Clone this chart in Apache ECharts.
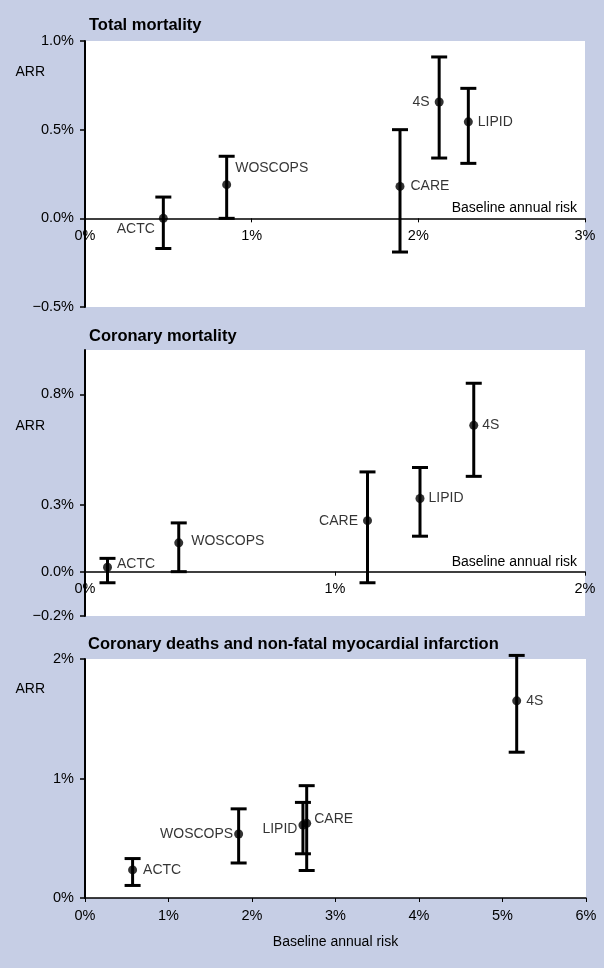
<!DOCTYPE html>
<html style="height: 100%">
<head>
<meta charset="utf-8">
</head>
<body style="height: 100%; margin: 0; background: #c6cee5">
<div id="container" style="width: 604px; height: 968px"></div>
<script src="https://cdn.jsdelivr.net/npm/echarts@6/dist/echarts.min.js"></script>
<script type="text/javascript">

// ---- data (percent values) ----
// panel 1: total mortality
var trials1 = ['ACTC', 'WOSCOPS', 'CARE', '4S', 'LIPID'];
var risk1 = [0.47, 0.85, 1.89, 2.125, 2.30];
var arr1 = [0.0, 0.19, 0.18, 0.656, 0.544];
var low1 = [-0.17, 0.0, -0.19, 0.34, 0.31];
var high1 = [0.12, 0.35, 0.50, 0.91, 0.733];

// panel 2: coronary mortality
var trials2 = ['ACTC', 'WOSCOPS', 'CARE', 'LIPID', '4S'];
var risk2 = [0.09, 0.375, 1.13, 1.34, 1.555];
var arr2 = [0.02, 0.13, 0.23, 0.33, 0.66];
var low2 = [-0.05, 0.0, -0.05, 0.16, 0.43];
var high2 = [0.06, 0.22, 0.45, 0.47, 0.85];

// panel 3: coronary deaths and non-fatal MI
var trials3 = ['ACTC', 'WOSCOPS', 'LIPID', 'CARE', '4S'];
var risk3 = [0.57, 1.84, 2.61, 2.655, 5.17];
var arr3 = [0.235, 0.536, 0.61, 0.625, 1.65];
var low3 = [0.105, 0.293, 0.37, 0.23, 1.22];
var high3 = [0.33, 0.746, 0.80, 0.94, 2.03];

var yTicks2 = [-0.2, 0, 0.3, 0.8];

var titles = ['Total mortality', 'Coronary mortality',
              'Coronary deaths and non-fatal myocardial infarction'];

// ---- styling ----
var FONT = 'Liberation Sans, Arial, Helvetica, sans-serif';
var INK = '#000';

// where each study label sits relative to its dot
var labelPlace = [
    {ACTC: ['left', 4, [0, 11]], WOSCOPS: ['right', 4, [0, -16]], CARE: ['right', 6, [0, 0]],
     '4S': ['left', 5, [0, 0]], LIPID: ['right', 5, [0, 0]]},
    {ACTC: ['right', 5, [0, -3]], WOSCOPS: ['right', 8, [0, -2]], CARE: ['left', 5, [0, 0]],
     LIPID: ['right', 4, [0, 0]], '4S': ['right', 4, [0, 0]]},
    {ACTC: ['right', 6, [0, 0]], WOSCOPS: ['left', 1, [0, 0]], LIPID: ['left', 1, [0, 4]],
     CARE: ['right', 3, [0, -4]], '4S': ['right', 5, [0, 0]]}
];

function pct1(v) {
    return (v < 0 ? '\u2212' : '') + Math.abs(v).toFixed(1) + '%';
}
function pct0(v) {
    return Math.round(v) + '%';
}

function renderBar(params, api) {
    var x = api.value(0);
    var lo = api.coord([x, api.value(1)]);
    var hi = api.coord([x, api.value(2)]);
    var w = 8;
    var st = {stroke: INK, lineWidth: 3, fill: null};
    return {
        type: 'group',
        children: [
            {type: 'line', shape: {x1: lo[0], y1: lo[1], x2: hi[0], y2: hi[1]}, style: st},
            {type: 'line', shape: {x1: lo[0] - w, y1: lo[1], x2: lo[0] + w, y2: lo[1]}, style: st},
            {type: 'line', shape: {x1: hi[0] - w, y1: hi[1], x2: hi[0] + w, y2: hi[1]}, style: st}
        ]
    };
}

function makeSeries(idx, names, risk, arr, low, high) {
    var bars = [], pts = [];
    for (var i = 0; i < names.length; i++) {
        bars.push([risk[i], low[i], high[i]]);
        var p = labelPlace[idx][names[i]];
        pts.push({
            name: names[i],
            value: [risk[i], arr[i]],
            label: {position: p[0], distance: p[1], offset: p[2]}
        });
    }
    return [
        {
            type: 'custom',
            xAxisIndex: idx,
            yAxisIndex: idx,
            renderItem: renderBar,
            data: bars,
            z: 2,
            clip: false,
            silent: true
        },
        {
            type: 'scatter',
            xAxisIndex: idx,
            yAxisIndex: idx,
            symbol: 'circle',
            symbolSize: 9,
            itemStyle: {color: INK},
            z: 3,
            label: {
                show: true,
                formatter: '{b}',
                color: INK,
                fontSize: 14,
                fontFamily: FONT
            },
            data: pts
        }
    ];
}

var grids = [
    {left: 85, top: 41, width: 500, height: 266},
    {left: 85, top: 350, width: 500, height: 266},
    {left: 85, top: 659, width: 501, height: 239}
];
var yRange = [[-0.5, 1.0], [-0.2, 1.0], [0, 2]];

var labelStyle = {color: INK, fontSize: 14.5, fontFamily: FONT};

function xAxisFor(idx, max, nameMode) {
    // the horizontal axis sits on ARR = 0, so shift it up from the grid bottom
    var r = yRange[idx];
    var shift = -grids[idx].height * (0 - r[0]) / (r[1] - r[0]);
    var ax = {
        type: 'value',
        gridIndex: idx,
        min: 0,
        max: max,
        interval: 1,
        offset: shift,
        splitLine: {show: false},
        axisLine: {show: true, onZero: false, lineStyle: {color: INK, width: 1.5}},
        axisTick: {show: true, length: 4, lineStyle: {color: INK}},
        axisLabel: Object.assign({formatter: pct0, margin: 10}, labelStyle),
        name: 'Baseline annual risk',
        nameTextStyle: {color: INK, fontSize: 14, fontFamily: FONT}
    };
    if (nameMode === 'end') {
        ax.nameLocation = 'end';
        ax.nameGap = -8;
        ax.nameTextStyle.align = 'right';
        ax.nameTextStyle.verticalAlign = 'bottom';
        ax.nameTextStyle.padding = [0, 0, 3, 0];
    } else {
        ax.nameLocation = 'middle';
        ax.nameGap = 37;
    }
    return ax;
}

function yAxisFor(idx, interval, fmt, arrGap, custom) {
    var ax = {
        type: 'value',
        gridIndex: idx,
        min: yRange[idx][0],
        max: yRange[idx][1],
        interval: interval,
        splitLine: {show: false},
        axisLine: {show: true, onZero: false, lineStyle: {color: INK, width: 2}},
        axisTick: {show: true, length: 5, lineStyle: {color: INK, width: 1.5}},
        axisLabel: Object.assign({formatter: fmt, margin: 11}, labelStyle),
        name: 'ARR',
        nameLocation: 'end',
        nameGap: arrGap,
        nameTextStyle: {color: INK, fontSize: 14, fontFamily: FONT,
                        align: 'right', verticalAlign: 'middle', padding: [0, 40, 0, 0]}
    };
    if (custom) {
        ax.axisLabel.customValues = custom;
        ax.axisTick.customValues = custom;
    }
    return ax;
}

var option = {
    backgroundColor: '#c6cee5',
    animation: false,
    title: [
        {text: titles[0], left: 89, top: 17},
        {text: titles[1], left: 89, top: 328},
        {text: titles[2], left: 88, top: 636}
    ].map(function (t) {
        t.padding = 0;
        t.textStyle = {color: INK, fontSize: 16.5, fontWeight: 'bold', fontFamily: FONT};
        return t;
    }),
    grid: grids.map(function (g) {
        return Object.assign({show: true, backgroundColor: '#fff', borderWidth: 0, containLabel: false}, g);
    }),
    xAxis: [
        xAxisFor(0, 3, 'end'),
        xAxisFor(1, 2, 'end'),
        xAxisFor(2, 6, 'middle')
    ],
    yAxis: [
        yAxisFor(0, 0.5, pct1, -31),
        yAxisFor(1, 0.2, pct1, -76, yTicks2),
        yAxisFor(2, 1, pct0, -30)
    ],
    series: [].concat(
        makeSeries(0, trials1, risk1, arr1, low1, high1),
        makeSeries(1, trials2, risk2, arr2, low2, high2),
        makeSeries(2, trials3, risk3, arr3, low3, high3)
    )
};

var myChart = echarts.init(document.getElementById('container'));
myChart.setOption(option);

</script>
</body>
</html>
